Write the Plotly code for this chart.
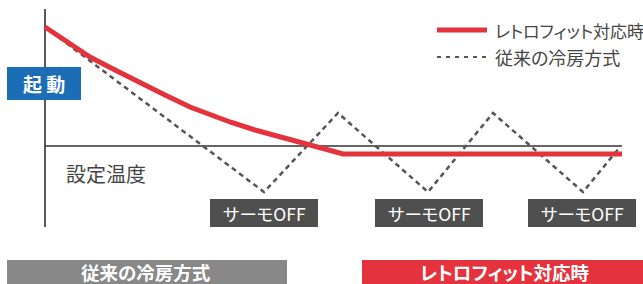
import plotly.graph_objects as go

# ---- data (time units along x, temperature units along y; y grows upward) ----
retro_x = [45, 70, 90, 115, 140, 165, 190, 210, 230, 255, 280, 310, 343, 622]
retro_y = [257, 240, 227, 214, 201, 189, 177, 169, 162, 154, 147, 139, 130, 130]
conv_x = [45, 264, 338, 428, 493, 583, 620]
conv_y = [257, 92, 171, 92, 171, 92, 137]
setpoint = 138
thermo_off_x = [264, 429, 582]
series_names = ["レトロフィット対応時", "従来の冷房方式"]
labels = {"start": "起 動", "set": "設定温度", "off": "サーモOFF"}

RED = "#e3333c"
DASH = "#555555"
FONT = "Noto Sans CJK JP"

fig = go.Figure()
fig.add_trace(go.Scatter(x=conv_x, y=conv_y, mode="lines",
                         line=dict(color=DASH, width=2.5, dash="5px,4px"),
                         showlegend=False, hoverinfo="skip"))
fig.add_trace(go.Scatter(x=retro_x, y=retro_y, mode="lines",
                         line=dict(color=RED, width=5),
                         showlegend=False, hoverinfo="skip"))

shapes = []
annotations = []
# axis & setpoint line
shapes.append(dict(type="line", x0=45, x1=45, y0=284 - 9, y1=284 - 227,
                   line=dict(color="#222", width=1.5), layer="below"))
shapes.append(dict(type="line", x0=45, x1=622, y0=setpoint, y1=setpoint,
                   line=dict(color="#333", width=1.5), layer="below"))
# start box
shapes.append(dict(type="rect", x0=7, x1=81, y0=284 - 67, y1=284 - 100,
                   fillcolor="#1b6db5", line=dict(width=0)))
annotations.append(dict(x=44, y=284 - 83.5, text="<b>" + labels["start"] + "</b>",
                        showarrow=False, font=dict(family=FONT, size=19, color="white")))
annotations.append(dict(x=64, y=284 - 173, text=labels["set"], xanchor="left",
                        showarrow=False, font=dict(family=FONT, size=20, color="#444")))
# thermo OFF boxes
for cx in thermo_off_x:
    shapes.append(dict(type="rect", x0=cx - 54, x1=cx + 54, y0=284 - 199, y1=284 - 227,
                       fillcolor="#4f4f4f", line=dict(width=0)))
    annotations.append(dict(x=cx, y=284 - 213, text=labels["off"], showarrow=False,
                            font=dict(family=FONT, size=17.5, color="white")))
# legend
shapes.append(dict(type="line", x0=437, x1=487, y0=284 - 30, y1=284 - 30,
                   line=dict(color=RED, width=5)))
shapes.append(dict(type="line", x0=437, x1=487, y0=284 - 57, y1=284 - 57,
                   line=dict(color=DASH, width=2, dash="4px,5px")))
annotations.append(dict(x=493, y=284 - 30, text=series_names[0], xanchor="left",
                        showarrow=False, font=dict(family=FONT, size=17, color="#444")))
annotations.append(dict(x=493, y=284 - 57, text=series_names[1], xanchor="left",
                        showarrow=False, font=dict(family=FONT, size=18, color="#444")))
# bottom bars
shapes.append(dict(type="rect", x0=7, x1=287, y0=284 - 260, y1=0,
                   fillcolor="#888888", line=dict(width=0)))
annotations.append(dict(x=146, y=284 - 272, text="<b>" + series_names[1] + "</b>",
                        showarrow=False, font=dict(family=FONT, size=18.5, color="white")))
shapes.append(dict(type="rect", x0=362, x1=643, y0=284 - 260, y1=0,
                   fillcolor="#e5333d", line=dict(width=0)))
annotations.append(dict(x=504, y=284 - 272, text="<b>" + series_names[0] + "</b>",
                        showarrow=False, font=dict(family=FONT, size=18.5, color="white")))

fig.update_layout(
    width=643, height=284,
    margin=dict(l=0, r=0, t=0, b=0),
    paper_bgcolor="white", plot_bgcolor="white",
    xaxis=dict(range=[0, 643], visible=False, fixedrange=True),
    yaxis=dict(range=[0, 284], visible=False, fixedrange=True),
    shapes=shapes, annotations=annotations,
    showlegend=False,
)
post = (
    "document.body.style.margin='0';document.body.style.overflow='hidden';"
    "var s=document.createElement('style');"
    "s.textContent='text{font-feature-settings:\"palt\" 1;}';"
    "document.head.appendChild(s);"
    "var gd=document.getElementById('{plot_id}');var upd={};"
    "gd.layout.annotations.forEach(function(a,i){"
    "upd['annotations['+i+'].font.size']=a.font.size+0.01;});"
    "Plotly.relayout(gd,upd);"
)
fig.write_html("out.html", config={"displayModeBar": False}, post_script=post)
